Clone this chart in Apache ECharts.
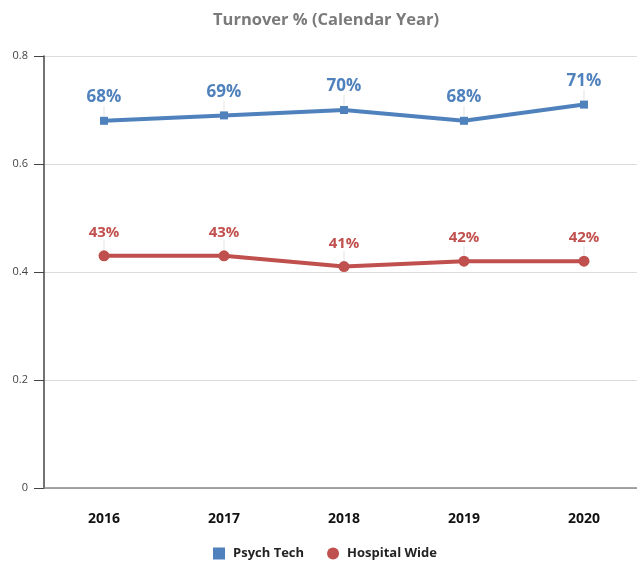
<!DOCTYPE html>
<html><head><meta charset="utf-8">
<script src="https://cdn.jsdelivr.net/npm/echarts@6/dist/echarts.min.js"></script>
<style>html,body{margin:0;padding:0;background:#fff}#c{width:637px;height:561px}</style>
</head><body><div id="c"></div>
<script>
const categories = ['2016','2017','2018','2019','2020'];
const psychTech = [0.68, 0.69, 0.70, 0.68, 0.71];
const hospitalWide = [0.43, 0.43, 0.41, 0.42, 0.42];
const yTicks = { min: 0, max: 0.8, interval: 0.2 };

const chart = echarts.init(document.getElementById('c'));
const fmt = p => Math.round(p.value * 100) + '%';
chart.setOption({
  animation: false,
  title: { text: 'Turnover % (Calendar Year)', left: 208, top: 7,
    textStyle: { fontFamily: 'Open Sans', fontSize: 16.5, fontWeight: 'bold', color: '#7a7a7a' } },
  legend: { bottom: -4, left: 208, itemGap: 23, itemWidth: 12, itemHeight: 12,
    textStyle: { fontFamily: 'Open Sans', fontSize: 13, fontWeight: 'bold', color: '#222', padding: [0, 0, 0, 3] },
    data: [{ name: 'Psych Tech', icon: 'rect' }, { name: 'Hospital Wide', icon: 'circle' }] },
  grid: { left: 44, width: 600, top: 56, bottom: 73, outerBoundsMode: 'none', containLabel: false },
  xAxis: { type: 'category', data: categories, boundaryGap: true,
    axisLine: { lineStyle: { color: '#888', width: 1.5 } },
    axisTick: { alignWithLabel: true, length: 10, lineStyle: { color: '#333' } },
    axisLabel: { margin: 24, fontFamily: 'Open Sans', fontSize: 14, fontWeight: 'bold', color: '#111' } },
  yAxis: { type: 'value', min: yTicks.min, max: yTicks.max, interval: yTicks.interval,
    axisLine: { show: true, lineStyle: { color: '#444', width: 1.5 } },
    axisTick: { show: true, length: 10, lineStyle: { color: '#444' } },
    axisLabel: { margin: 16, fontFamily: 'Open Sans', fontSize: 11, color: '#444' },
    splitLine: { lineStyle: { color: '#dcdcdc' } } },
  series: [
    { name: 'Psych Tech', type: 'line', data: psychTech, symbol: 'rect', symbolSize: 8,
      itemStyle: { color: '#4F81BD' }, lineStyle: { width: 4, color: '#4F81BD' },
      label: { show: true, position: 'top', distance: 6, formatter: fmt,
        fontFamily: 'Open Sans', fontSize: 17, fontWeight: 'bold', color: '#4F81BD' },
      labelLayout: { dy: -5 },
      labelLine: { show: true, lineStyle: { color: '#e3e3e3', width: 1 } } },
    { name: 'Hospital Wide', type: 'line', data: hospitalWide, symbol: 'circle', symbolSize: 11,
      itemStyle: { color: '#C0504D' }, lineStyle: { width: 4, color: '#C0504D' },
      label: { show: true, position: 'top', distance: 6, formatter: fmt,
        fontFamily: 'Open Sans', fontSize: 15, fontWeight: 'bold', color: '#C0504D' },
      labelLayout: { dy: -4 },
      labelLine: { show: true, lineStyle: { color: '#e3e3e3', width: 1 } } }
  ]
});
</script></body></html>
